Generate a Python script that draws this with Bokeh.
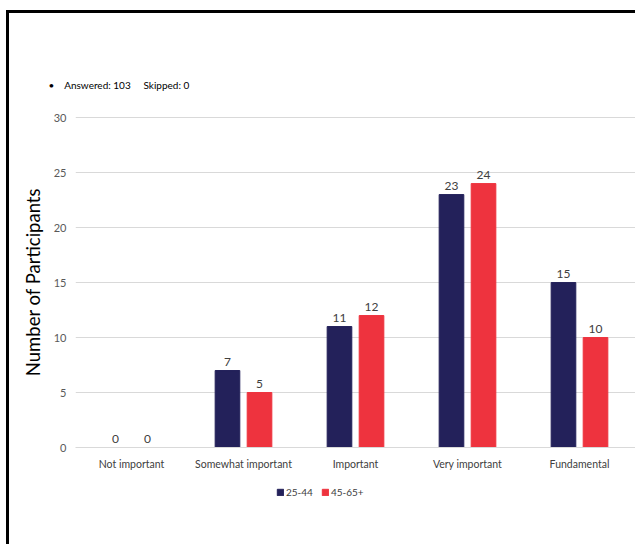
from bokeh.plotting import figure
from bokeh.layouts import column
from bokeh.models import (ColumnDataSource, FactorRange, Range1d, Legend, LegendItem,
                          Title, FixedTicker)
from bokeh.transform import dodge
from bokeh.core.properties import value
from bokeh.embed import file_html
from bokeh.resources import INLINE

# Survey responses by age group
categories = ["Not important", "Somewhat important", "Important", "Very important", "Fundamental"]
age_25_44 = [0, 7, 11, 23, 15]
age_45_65 = [0, 5, 12, 24, 10]
series_names = ["25-44", "45-65+"]
y_ticks = [0, 5, 10, 15, 20, 25, 30]

NAVY = "#23215a"
RED = "#ee333e"
FONT = "Lato"
NB = "\u00a0"

src = ColumnDataSource(dict(
    cat=categories,
    a=age_25_44,
    b=age_45_65,
    a_txt=[str(v) for v in age_25_44],
    b_txt=[str(v) for v in age_45_65],
))

p = figure(x_range=FactorRange(*categories), y_range=Range1d(0, 30.1),
           width=626, height=470, output_backend="svg", toolbar_location=None,
           min_border_left=66, min_border_right=0, min_border_top=103,
           min_border_bottom=36)
p.outline_line_color = None
p.background_fill_color = "white"
p.border_fill_color = "white"

bw = 0.22
off = 0.143
p.vbar(x=dodge("cat", -off, range=p.x_range), top="a", width=bw, source=src,
       fill_color=NAVY, line_color=NAVY)
p.vbar(x=dodge("cat", off, range=p.x_range), top="b", width=bw, source=src,
       fill_color=RED, line_color=RED)

# value labels above each bar
for col, txt, dx in (("a", "a_txt", -off), ("b", "b_txt", off)):
    p.text(x=dodge("cat", dx, range=p.x_range), y=col, text=txt, source=src,
           text_align="center", text_baseline="bottom", y_offset=-5,
           text_font=value(FONT), text_font_size="12px", text_color="#404040")

# axes
p.yaxis.ticker = FixedTicker(ticks=y_ticks)
p.yaxis.axis_line_color = None
p.yaxis.major_tick_line_color = None
p.yaxis.minor_tick_line_color = None
p.yaxis.major_tick_out = 0
p.yaxis.minor_tick_out = 0
p.yaxis.major_label_text_font = FONT
p.yaxis.major_label_text_font_size = "11px"
p.yaxis.major_label_text_color = "#595959"
p.yaxis.major_label_standoff = 9
p.yaxis.axis_label = "Number of Participants"
p.yaxis.axis_label_text_font = FONT
p.yaxis.axis_label_text_font_size = "18.5px"
p.yaxis.axis_label_text_font_style = "normal"
p.yaxis.axis_label_text_color = "#000000"
p.yaxis.axis_label_standoff = 7

p.xaxis.axis_line_color = "#d9d9d9"
p.xaxis.major_tick_line_color = None
p.xaxis.minor_tick_line_color = None
p.xaxis.major_tick_out = 0
p.xaxis.minor_tick_out = 0
p.xaxis.major_label_text_font = FONT
p.xaxis.major_label_text_font_size = "10.5px"
p.xaxis.major_label_text_color = "#404040"
p.xaxis.major_label_standoff = 10

p.xgrid.grid_line_color = None
p.ygrid.grid_line_color = "#d9d9d9"
p.ygrid.grid_line_width = 1

p.add_layout(Title(text="•" + NB * 4 + "Answered: 103" + NB * 5 + "Skipped: 0",
                   align="left", offset=-27, standoff=51, text_font=FONT,
                   text_font_size="10px", text_font_style="normal",
                   text_color="#000000"), "above")

# legend strip under the chart; its swatch renderers sit outside the visible range
lg = figure(width=626, height=61, output_backend="svg", toolbar_location=None,
            x_axis_type=None, y_axis_type=None, x_range=Range1d(0, 1), y_range=Range1d(0, 1),
            min_border_left=0, min_border_right=0, min_border_top=0, min_border_bottom=0)
lg.outline_line_color = None
lg.grid.grid_line_color = None
sa = lg.vbar(x=[5], top=[5], bottom=[4], width=0.1, fill_color=NAVY, line_color=NAVY)
sb = lg.vbar(x=[5], top=[5], bottom=[4], width=0.1, fill_color=RED, line_color=RED)
legend = Legend(items=[LegendItem(label=series_names[0], renderers=[sa]),
                       LegendItem(label=series_names[1], renderers=[sb])],
                orientation="horizontal", location=(201, 46),
                label_text_font=FONT, label_text_font_size="10px",
                label_text_color="#404040", glyph_width=8, glyph_height=8,
                label_standoff=2, spacing=8, padding=0, margin=0,
                label_height=12, border_line_color=None, background_fill_alpha=0)
lg.add_layout(legend, "center")

# framed card: black rule along the top and left edges
page = column(p, lg, spacing=0)
page.margin = (10, 0, 0, 6)
page.styles = {"border-top": "3px solid black", "border-left": "3px solid black"}

open("out.html", "w").write(file_html(page, INLINE))
